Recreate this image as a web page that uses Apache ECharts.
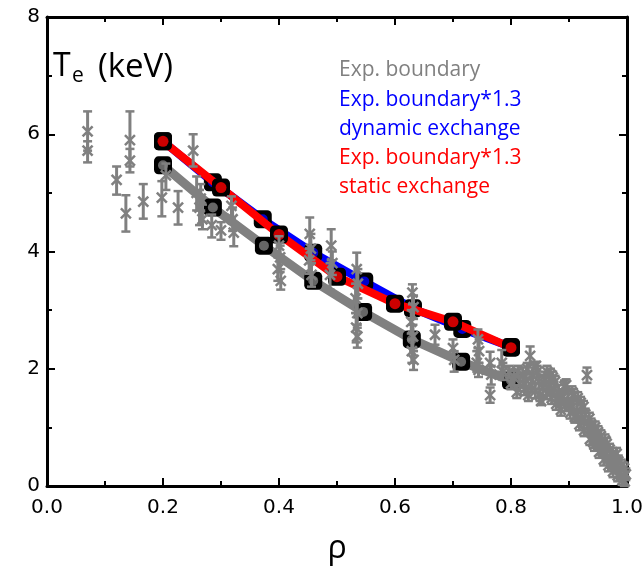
<!DOCTYPE html>
<html>
<head>
<meta charset="utf-8">
<script src="https://cdn.jsdelivr.net/npm/echarts@6/dist/echarts.min.js"></script>
<style>html,body{margin:0;padding:0;background:#fff}#c{width:644px;height:566px}</style>
</head>
<body>
<div id="c"></div>
<script>
// Model profiles
var grayX = [0.20, 0.286, 0.374, 0.459, 0.545, 0.629, 0.714, 0.80];
var grayY = [5.47, 4.75, 4.10, 3.50, 2.97, 2.50, 2.12, 1.80];
var blueX = [0.20, 0.286, 0.372, 0.459, 0.547, 0.631, 0.716, 0.80];
var blueY = [5.88, 5.18, 4.55, 3.98, 3.49, 3.03, 2.68, 2.37];
var redX = [0.20, 0.30, 0.40, 0.50, 0.60, 0.70, 0.80];
var redY = [5.88, 5.09, 4.29, 3.57, 3.11, 2.80, 2.36];

// Experimental data: rho, Te, lower, upper
var expX = [0.070,0.070,0.120,0.136,0.143,0.143,0.166,0.198,0.205,0.226,0.252,0.258,0.263,0.268,0.265,0.284,0.300,0.318,0.320,0.322,
 0.400,0.402,0.398,0.403,0.453,0.455,0.452,0.456,0.490,0.492,0.488,0.534,0.536,0.532,0.535,0.533,0.535,
 0.630,0.632,0.628,0.631,0.629,0.632,0.669,0.700,0.702,0.743,0.745,0.741,0.744,0.764,0.766,0.764,0.784,0.786,
 0.805,0.810,0.815,0.820,0.823,0.826,0.830,0.833,0.835,0.838,0.842,0.845,0.848,0.852,0.855,0.858,0.862,0.866,0.870,0.874,
 0.878,0.882,0.886,0.890,0.894,0.898,0.902,0.906,0.910,0.914,0.918,0.922,0.926,0.931,0.932,0.936,0.940,0.944,0.948,0.952,
 0.956,0.960,0.964,0.968,0.972,0.976,0.980,0.984,0.988,0.992,0.996,
 0.862,0.872,0.895,0.905,0.915,0.925,0.935,0.945,0.955,0.965,0.975,0.985,0.995,
 0.812,0.828,0.843,0.850,0.868,0.876,0.884,0.892,0.900,0.908,0.912,0.920,0.928,0.938,0.942,0.950,0.958,0.962,0.970,0.978,
 0.982,0.990,0.998,0.797,0.800];
var expY = [6.05,5.72,5.22,4.65,5.90,5.55,4.85,4.92,5.30,4.75,5.72,5.00,4.75,4.55,4.90,4.45,4.36,4.78,4.55,4.32,
 4.10,3.90,3.70,3.50,4.30,4.05,3.85,3.60,4.10,3.80,3.60,3.70,3.45,3.20,2.95,2.70,2.55,
 3.30,3.05,2.80,2.55,2.30,2.15,2.58,2.35,2.15,2.50,2.30,2.10,1.98,2.10,1.90,1.55,2.10,1.95,
 1.85,1.60,1.75,1.90,1.65,1.80,1.55,2.22,1.72,1.88,1.62,1.95,1.78,1.45,1.68,1.82,1.58,1.72,1.50,1.65,
 1.40,1.60,1.30,1.52,1.38,1.45,1.25,1.35,1.18,1.28,1.05,1.15,0.95,1.89,1.02,0.80,0.92,0.70,0.82,0.58,
 0.68,0.45,0.55,0.35,0.42,0.25,0.32,0.18,0.22,0.10,0.08,
 1.95,1.85,1.72,1.60,1.50,1.35,1.15,1.00,0.85,0.72,0.55,0.42,0.30,
 1.95,2.00,2.05,1.55,1.90,1.78,1.48,1.70,1.38,1.55,1.20,1.42,1.22,1.05,0.75,0.92,0.60,0.78,0.62,0.45,
 0.55,0.35,0.20,1.95,1.75];
var expLo = [5.72,5.52,4.97,4.34,5.45,5.35,4.56,4.60,5.05,4.46,5.45,4.70,4.45,4.38,4.70,4.24,4.20,4.55,4.35,4.09,
 3.90,3.65,3.50,3.35,4.05,3.85,3.62,3.40,3.85,3.60,3.35,3.45,3.20,2.95,2.70,2.45,2.36,
 3.10,2.85,2.60,2.35,2.10,1.98,2.41,2.20,1.95,2.35,2.10,1.95,1.86,1.95,1.73,1.42,1.95,1.81,
 1.72,1.50,1.62,1.78,1.55,1.68,1.45,2.07,1.60,1.75,1.50,1.85,1.65,1.38,1.55,1.70,1.48,1.60,1.40,1.55,
 1.30,1.48,1.20,1.42,1.28,1.35,1.15,1.25,1.08,1.18,0.95,1.05,0.85,1.76,0.92,0.70,0.82,0.60,0.72,0.48,
 0.58,0.35,0.45,0.25,0.32,0.15,0.22,0.08,0.12,0.02,0.00,
 1.85,1.75,1.62,1.50,1.40,1.25,1.05,0.90,0.75,0.62,0.45,0.32,0.20,
 1.85,1.90,1.95,1.45,1.80,1.68,1.38,1.60,1.28,1.45,1.10,1.32,1.12,0.95,0.65,0.82,0.50,0.68,0.52,0.35,
 0.45,0.25,0.10,1.85,1.65];
var expHi = [6.39,5.88,5.45,4.96,6.39,5.75,5.15,5.20,5.50,5.03,6.00,5.28,5.05,4.80,5.15,4.63,4.50,4.94,4.75,4.50,
 4.26,4.10,3.90,3.70,4.58,4.30,4.05,3.80,4.38,4.00,3.80,3.98,3.70,3.45,3.20,2.95,2.75,
 3.44,3.25,3.00,2.75,2.50,2.30,2.75,2.50,2.30,2.67,2.50,2.30,2.10,2.29,2.05,1.68,2.32,2.10,
 1.98,1.70,1.88,2.02,1.78,1.92,1.65,2.38,1.85,2.02,1.75,2.05,1.90,1.55,1.80,1.95,1.70,1.85,1.62,1.78,
 1.52,1.72,1.40,1.65,1.50,1.58,1.35,1.48,1.30,1.40,1.15,1.28,1.05,2.02,1.12,0.90,1.02,0.80,0.92,0.68,
 0.78,0.55,0.65,0.45,0.52,0.35,0.42,0.28,0.32,0.18,0.16,
 2.05,1.95,1.82,1.70,1.60,1.45,1.25,1.10,0.95,0.82,0.65,0.52,0.40,
 2.05,2.10,2.12,1.65,2.00,1.88,1.58,1.80,1.50,1.65,1.30,1.52,1.32,1.15,0.85,1.02,0.70,0.88,0.72,0.55,
 0.65,0.45,0.30,2.05,1.85];

var xTicks = {min: 0, max: 1, interval: 0.2};
var yTicks = {min: 0, max: 8, interval: 2};

var legendLines = [
  {text: 'Exp. boundary', color: '#808080'},
  {text: 'Exp. boundary*1.3', color: '#0000ff'},
  {text: 'dynamic exchange', color: '#0000ff'},
  {text: 'Exp. boundary*1.3', color: '#ff0000'},
  {text: 'static exchange', color: '#ff0000'}
];

function pairs(xs, ys) { return xs.map(function (x, i) { return [x, ys[i]]; }); }
var expData = expX.map(function (x, i) { return [x, expY[i], expLo[i], expHi[i]]; });

var GRAY = '#808080';
var axisFont = 'DejaVu Sans';

function mkAxis(base, pos, showLabels, fmt) {
  return {
    type: 'value', position: pos, min: base.min, max: base.max, interval: base.interval,
    axisLine: {show: true, onZero: false, lineStyle: {color: '#000', width: 3}},
    axisTick: {show: true, inside: true, length: 8, lineStyle: {color: '#000', width: 2}},
    minorTick: {show: true, splitNumber: 2, length: 5, lineStyle: {color: '#000', width: 2}},
    splitLine: {show: false},
    axisLabel: {show: showLabels, color: '#000', fontFamily: axisFont, fontSize: 20, margin: 8, formatter: fmt}
  };
}

var xBottom = mkAxis(xTicks, 'bottom', true, function (v) { return v.toFixed(1); });
xBottom.axisLabel.margin = 12;
xBottom.name = 'ρ';
xBottom.nameLocation = 'middle';
xBottom.nameGap = 47;
xBottom.nameTextStyle = {fontFamily: 'Open Sans', fontSize: 32, color: '#000'};
var xTop = mkAxis(xTicks, 'top', false);
var yLeft = mkAxis(yTicks, 'left', true, function (v) { return String(v); });
yLeft.axisLabel.margin = 7;
var yRight = mkAxis(yTicks, 'right', false);
[xBottom, xTop, yLeft, yRight].forEach(function (a) { a.minorTick.inside = true; });

var graphics = legendLines.map(function (l, i) {
  return {type: 'text', left: 339, top: 74 + i * 29.2 - 14, z: 100,
    style: {text: l.text, fill: l.color, font: '21px "Open Sans"'}};
});
graphics.push({type: 'text', left: 53, top: 51, z: 100, style: {text: 'T', fill: '#000', font: '32px "Open Sans"'}});
graphics.push({type: 'text', left: 72, top: 66, z: 100, style: {text: 'e', fill: '#000', font: '21px "Open Sans"'}});
graphics.push({type: 'text', left: 98, top: 51, z: 100, style: {text: '(keV)', fill: '#000', font: '33px "Open Sans"'}});

var chart = echarts.init(document.getElementById('c'), null, {renderer: 'canvas'});
chart.setOption({
  animation: false,
  backgroundColor: '#fff',
  grid: {left: 47, right: 17, top: 17, bottom: 80, containLabel: false, outerBoundsMode: 'none'},
  xAxis: [xBottom, xTop],
  yAxis: [yLeft, yRight],
  graphic: graphics,
  series: [
    {type: 'line', z: 3, name: 'Exp. boundary', data: pairs(grayX, grayY), symbol: 'roundRect', symbolSize: 18,
      lineStyle: {color: GRAY, width: 9}, itemStyle: {color: '#000'}},
    {type: 'scatter', z: 4, data: pairs(grayX, grayY), symbol: 'circle', symbolSize: 10, itemStyle: {color: GRAY}},
    {type: 'line', z: 5, name: 'dynamic', data: pairs(blueX, blueY), symbol: 'roundRect', symbolSize: 18,
      lineStyle: {color: '#0000ff', width: 8}, itemStyle: {color: '#000'}},
    {type: 'scatter', z: 6, data: pairs(blueX, blueY), symbol: 'circle', symbolSize: 10, itemStyle: {color: '#0000ff'}},
    {type: 'line', z: 7, name: 'static', data: pairs(redX, redY), symbol: 'roundRect', symbolSize: 18,
      lineStyle: {color: '#ff0000', width: 8}, itemStyle: {color: '#000'}},
    {type: 'scatter', z: 8, data: pairs(redX, redY), symbol: 'circle', symbolSize: 11, itemStyle: {color: '#ff0000'}},
    {type: 'custom', z: 9, name: 'exp', data: expData, encode: {x: 0, y: 1},
      renderItem: function (params, api) {
        var p = api.coord([api.value(0), api.value(1)]);
        var pl = api.coord([api.value(0), api.value(2)]);
        var ph = api.coord([api.value(0), api.value(3)]);
        var st = {stroke: GRAY, lineWidth: 3};
        var st2 = {stroke: GRAY, lineWidth: 2.5};
        var c = 4.5, m = 5;
        return {type: 'group', children: [
          {type: 'line', shape: {x1: pl[0], y1: pl[1], x2: ph[0], y2: ph[1]}, style: st},
          {type: 'line', shape: {x1: pl[0] - c, y1: pl[1], x2: pl[0] + c, y2: pl[1]}, style: st2},
          {type: 'line', shape: {x1: ph[0] - c, y1: ph[1], x2: ph[0] + c, y2: ph[1]}, style: st2},
          {type: 'line', shape: {x1: p[0] - m, y1: p[1] - m, x2: p[0] + m, y2: p[1] + m}, style: st2},
          {type: 'line', shape: {x1: p[0] - m, y1: p[1] + m, x2: p[0] + m, y2: p[1] - m}, style: st2}
        ]};
      }}
  ]
});
</script>
</body>
</html>
